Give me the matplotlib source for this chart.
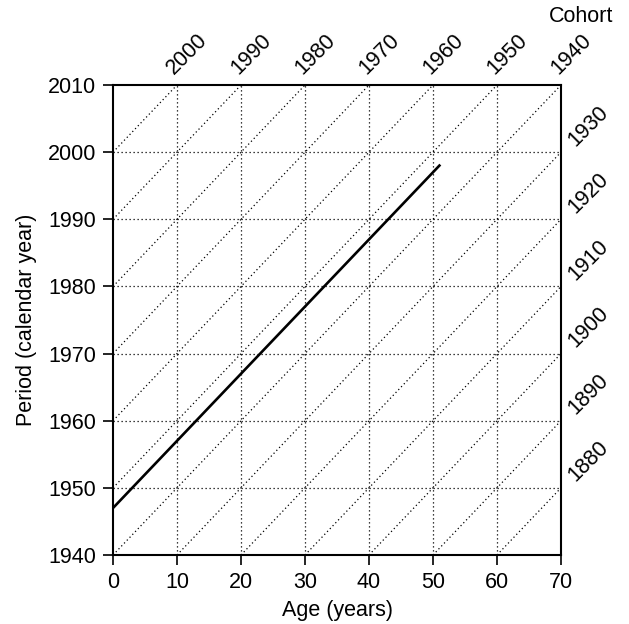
import numpy as np
import matplotlib
matplotlib.use('Agg')
import matplotlib.pyplot as plt

plt.rcParams['font.family'] = ['Liberation Sans', 'DejaVu Sans']

age_ticks = [0, 10, 20, 30, 40, 50, 60, 70]
period_ticks = [1940, 1950, 1960, 1970, 1980, 1990, 2000, 2010]
cohorts = list(range(1870, 2010, 10))
top_cohorts = [2000, 1990, 1980, 1970, 1960, 1950, 1940]
right_cohorts = [1930, 1920, 1910, 1900, 1890, 1880]

# life line of one person born 1947
life_age = [0, 51]
life_period = [1947, 1998]

fs = 15.5
fig = plt.figure(figsize=(6.29, 6.24), dpi=100)
ax = fig.add_axes([0.1797, 0.1106, 0.7122, 0.7532])

dots = (0, (1, 2.2))
# grid
for a in age_ticks[1:-1]:
    ax.plot([a, a], [1940, 2010], color='black', lw=0.9, ls=dots)
for p in period_ticks[1:-1]:
    ax.plot([0, 70], [p, p], color='black', lw=0.9, ls=dots)

# cohort diagonals
for c in cohorts:
    a0 = max(0, 1940 - c)
    a1 = min(70, 2010 - c)
    if a1 > a0:
        ax.plot([a0, a1], [c + a0, c + a1], color='black', lw=0.9, ls=dots)

ax.plot(life_age, life_period, color='black', lw=1.9)

ax.set_xlim(0, 70)
ax.set_ylim(1940, 2010)
ax.set_xticks(age_ticks)
ax.set_yticks(period_ticks)
ax.tick_params(labelsize=fs, length=7, width=1.2, direction='out', pad=5)
for s in ax.spines.values():
    s.set_linewidth(1.5)

ax.set_xlabel('Age (years)', fontsize=fs, labelpad=5)
ax.set_ylabel('Period (calendar year)', fontsize=fs, labelpad=8)

# cohort labels
for c in top_cohorts:
    ax.annotate(str(c), xy=(2010 - c, 2010), xytext=(-2, 7), textcoords='offset points',
                rotation=45, fontsize=fs, ha='left', va='baseline', rotation_mode='anchor')
for c in right_cohorts:
    ax.annotate(str(c), xy=(70, c + 70), xytext=(10, 4), textcoords='offset points',
                rotation=45, fontsize=fs, ha='left', va='baseline', rotation_mode='anchor')
fig.text(581 / 629, 1 - 22 / 624, 'Cohort', fontsize=fs, ha='center', va='baseline')

fig.savefig('out.png', dpi=100)
